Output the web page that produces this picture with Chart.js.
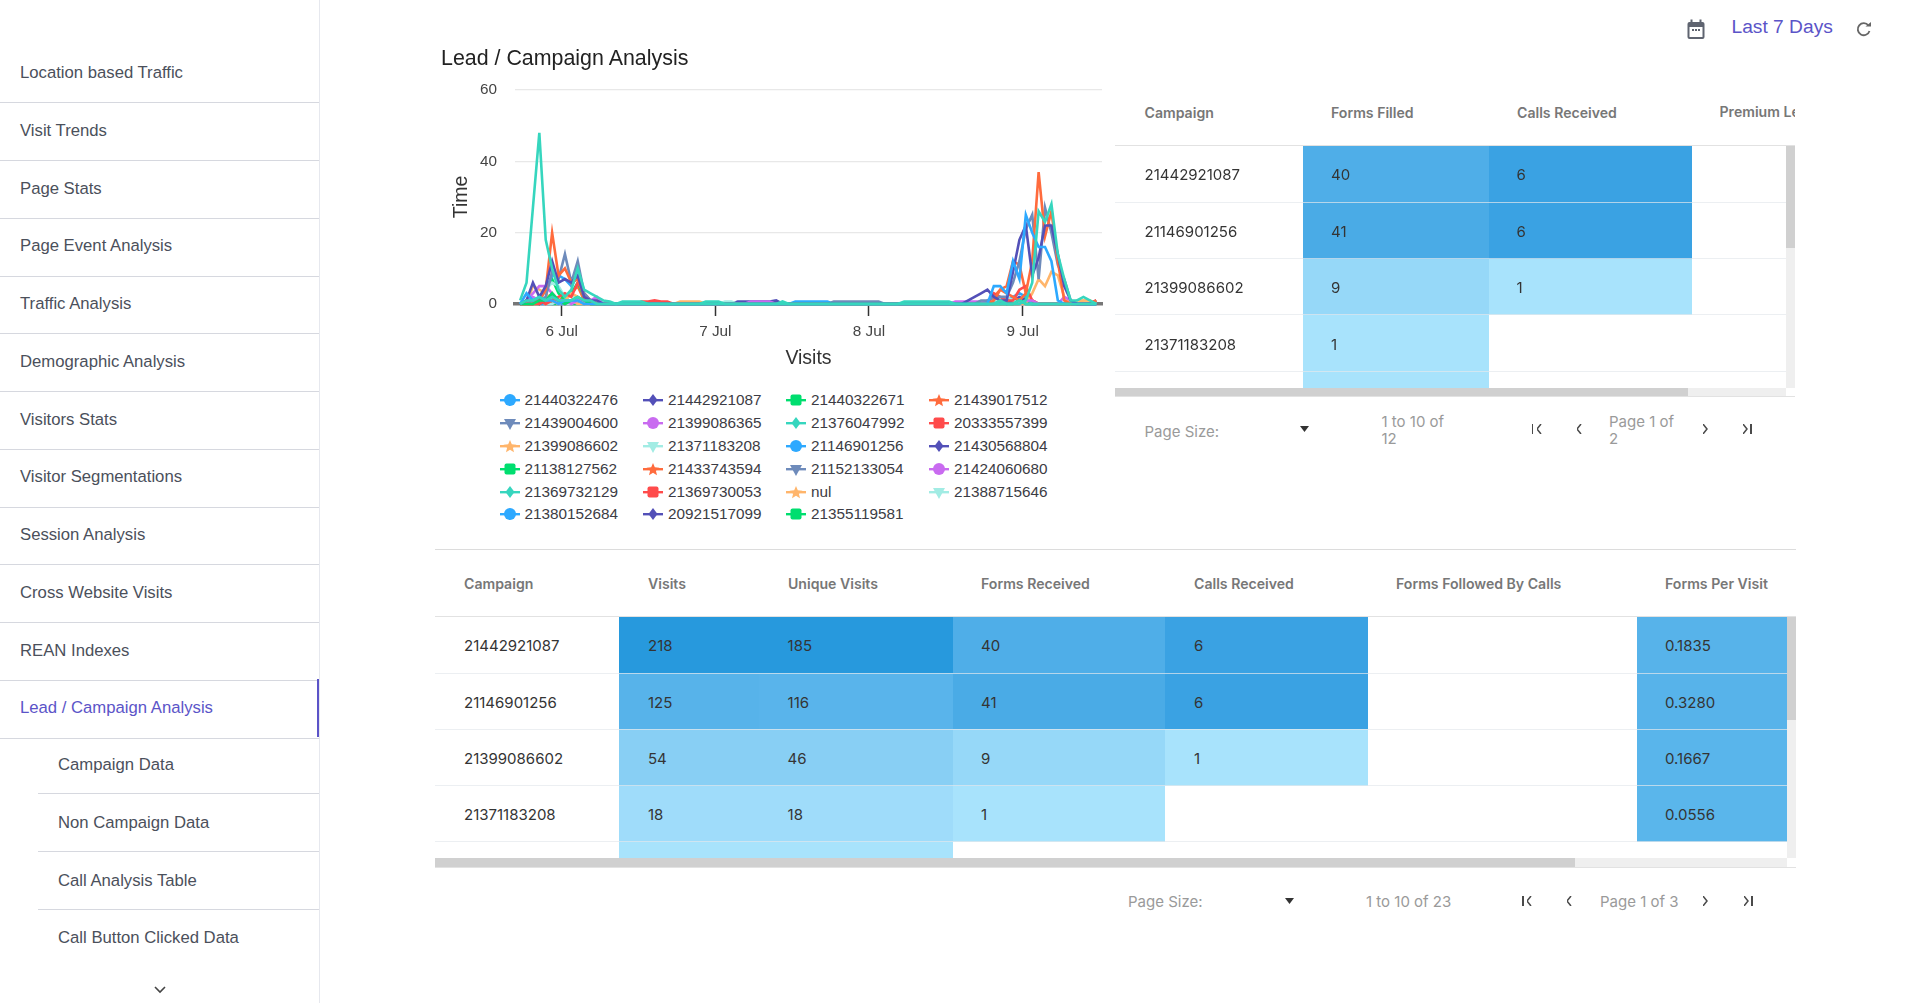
<!DOCTYPE html>
<html>
<head>
<meta charset="utf-8">
<title>Lead / Campaign Analysis</title>
<script src="https://cdn.jsdelivr.net/npm/chart.js@4"></script>
<style>
  html, body { margin: 0; background: #fff; overflow: hidden; width: 1905px; height: 1003px; }
  body { position: relative; font-family: "Liberation Sans", Arial, sans-serif; }
  .abs { position: absolute; white-space: nowrap; }
  .mid { transform: translateY(-50%); }
  .nav { left: 20px; font-size: 16.7px; color: #4b505b; }
  .nav.sub { left: 58px; }
  .nav.active { color: #5b54c8; }
  .legend-item { display: flex; align-items: center; font-size: 15.3px; color: #3c3c44; }
  .legend-item svg { margin-right: 4px; }
  .tbl { position: absolute; overflow: hidden; }
  table { border-collapse: collapse; table-layout: fixed; font-family: Inter, sans-serif; font-size: 15px; color: #343434; }
  td { padding: 2px 0 0 28px; border-bottom: 1px solid rgba(228,232,236,.7); box-sizing: border-box; }
  .head { font-family: Inter, sans-serif; font-size: 14.1px; font-weight: 600; color: #777; }
  .foot { font-family: Inter, sans-serif; font-size: 15px; color: #9a9a9a; line-height: 17px; white-space: pre; }
  .bar { position: absolute; background: #efefef; }
  .thumb { position: absolute; background: #d0d0d0; }
</style>
</head>
<body>
<canvas id="leadChart" class="abs" style="left:440px;top:70px"></canvas>
<script>
/* DATA */
const navItems = ["Location based Traffic", "Visit Trends", "Page Stats", "Page Event Analysis", "Traffic Analysis", "Demographic Analysis", "Visitors Stats", "Visitor Segmentations", "Session Analysis", "Cross Website Visits", "REAN Indexes", "Lead / Campaign Analysis"];
const navSubItems = ["Campaign Data", "Non Campaign Data", "Call Analysis Table", "Call Button Clicked Data"];

const tickHours = [0, 24, 48, 72];
const tickLabels = ["6 Jul", "7 Jul", "8 Jul", "9 Jul"];

const hours = [
  -6.5, -5.5, -4.5, -3.5, -2.5, -1.5, -0.5, 0.5, 1.5, 2.5, 3.5, 4.5, 5.5, 6.5,
  7.5, 8.5, 9.5, 10.5, 11.5, 12.5, 13.5, 14.5, 15.5, 16.5,
  17.5, 18.5, 19.5, 20.5, 21.5, 22.5, 23.5, 24.5, 25.5, 26.5,
  27.5, 28.5, 29.5, 30.5, 31.5, 32.5, 33.5, 34.5, 35.5, 36.5,
  37.5, 38.5, 39.5, 40.5, 41.5, 42.5, 43.5, 44.5, 45.5, 46.5,
  47.5, 48.5, 49.5, 50.5, 51.5, 52.5, 53.5, 54.5, 55.5, 56.5,
  57.5, 58.5, 59.5, 60.5, 61.5, 62.5, 63.5, 64.5, 65.5,
  66.5, 67.5, 68.5, 69.5, 70.5, 71.5, 72.5, 73.5, 74.5, 75.5, 76.5, 77.5, 78.5, 79.5, 80.5, 81.5, 82.5, 83.5
];

/* most campaigns stay at zero between the two bursts */
const quiet = [
  0,0,0,0,0,0,0,0,0,0, 0,0,0,0,0,0,0,0,0,0, 0,0,0,0,0,0,0,0,0,0,
  0,0,0,0,0,0,0,0,0,0, 0,0,0,0,0,0,0,0,0,0, 0,0,0,0,0,0,0,0,0
];

const c21440322476 = [0,3,1,2,1,1,0,1,1,1,0,0,0,0, ...quiet, 0,5,5,3,12,7,25,20,16,16,12,1,0,0,0,0,0,0];
const c21442921087 = [0,1,6,2,5,12,6,7,6,8,2,1,1,0,
  0,0,0,0,0,0,0,0,0,0, 0,0,0,0,0,0,0,0,0,0, 0,0,0,0,0,0,0,0,0,0,
  0,0,0,0,0,0,0,0,0,0, 0,0,0,0,0,0,0,0,0,0, 0,0,0,0,0,0,1,2,3,
  4,2,1,1,9,18,22,8,13,22,22,14,5,1,0,0,0,0];
const c21440322671 = [0,0,0,1,1,3,1,0,1,2,1,0,0,0, ...quiet, 0,0,0,0,0,1,0,0,0,0,0,0,0,0,0,0,0,0];
const c21439017512 = [0,0,0,1,4,20,8,10,6,7,2,0,0,0, ...quiet, 0,1,4,3,2,1,3,12,37,19,26,12,1,0,0,0,0,1];
const c21439004600 = [0,0,1,1,2,9,7,14,6,12,3,1,0,0,
  0,0,0,0,0,0,0,0,0,0, 0,0,0,0,0,0,0,0,0,0, 0,0,0,0,0,0,0,0,0,0,
  0,0,0,0,0,.7,.7,.7,.7,.7, .7,.7,.7,0,0,0,0,0,0,0, 0,0,0,0,0,0,0,0,1,
  1,2,2,2,6,12,21,25,7,27,20,11,7,1,0,0,0,0];
const c21399086365 = [0,1,3,5,5,3,1,1,1,1,1,1,2,0,
  0,0,0,0,0,0,0,0,0,0, 0,0,0,0,0,0,0,0,0,0, 0,0,.7,.7,.7,.7,0,0,0,0,
  0,0,0,0,0,0,0,0,0,0, 0,0,0,0,0,0,0,0,0,0, 0,0,0,0,.7,.7,.7,.7,.7,
  0,0,0,0,0,0,1,1,0,0,0,0,2,1,0,0,0,0];
const c21376047992 = [1,6,27,48,18,10,4,2,4,10,4,3,2,1,
  .7,0,.7,.7,.7,.7,0,0,0,0, 0,0,0,0,0,.7,.7,.7,0,0, 0,0,0,0,0,0,0,.7,0,0,
  0,0,0,0,0,0,0,0,0,0, 0,0,0,0,0,0,.7,.7,.7,.7, .7,.7,.7,.7,0,0,0,0,0,
  0,0,0,0,0,0,1,6,26,23,28,14,7,1,1,2,1,0];
const c20333557399 = [0,0,0,0,1,1,2,3,2,6,3,1,0,0,
  0,0,0,0,0,.7,.7,1,.7,.7, 0,0,0,0,0,0,0,0,0,0, 0,0,0,0,0,0,0,0,0,0,
  0,0,0,0,0,0,0,0,0,0, 0,0,0,0,0,0,0,0,0,0, 0,0,0,0,0,0,0,0,0,
  0,3,2,1,1,4,5,1,0,0,0,0,0,0,0,0,0,1];
const c21399086602 = [0,0,5,4,3,1,0,1,3,2,0,0,1,0,
  0,0,0,0,0,0,0,0,0,0, 0,.7,.7,.7,.7,0,0,0,0,0, 0,0,0,0,0,0,0,0,0,0,
  0,0,0,0,0,0,0,0,0,0, 0,0,0,0,0,0,0,0,0,0, 0,0,0,0,0,0,0,0,0,
  0,0,0,0,0,0,0,3,7,5,9,8,2,0,1,1,1,0];
const c21371183208 = [0,0,1,2,4,6,5,2,3,1,0,0,0,0,
  0,0,0,0,0,0,0,0,0,0, 0,0,0,0,0,0,0,0,.7,.7, 0,0,0,0,0,0,0,0,0,0,
  0,0,0,0,0,0,0,0,0,0, 0,0,0,0,0,0,0,0,0,0, 0,0,0,0,0,0,0,0,0,
  0,1,1,2,1,0,0,0,0,0,0,0,0,0,0,0,0,0];
const c21146901256 = [0,1,1,1,4,8,8,7,5,8,2,0,0,0,
  0,0,0,0,0,0,0,0,0,0, 0,0,0,0,0,0,0,0,0,0, 0,0,0,0,0,0,0,0,0,.7,
  .7,.7,.7,.7,.7,0,0,0,0,0, 0,0,0,0,0,0,0,0,0,0, 0,0,0,0,0,0,0,0,0,
  1,1,0,1,2,3,2,0,0,0,0,0,0,0,0,0,0,0];
const c21430568804 = [0,0,1,0,1,2,1,1,1,1,0,1,0,0,
  0,0,0,0,0,0,0,0,0,0, 0,0,0,0,0,0,0,0,0,0, .7,.7,.7,.7,.7,.7,1,0,0,0,
  0,0,0,0,0,0,0,0,0,0, 0,0,0,0,0,0,0,0,0,0, 0,0,0,0,0,0,0,0,0,
  0,1,1,0,1,2,1,0,0,0,0,0,0,0,0,0,0,1];
const c21138127562 = [0,0,0,1,5,7,3,1,3,6,2,0,0,0, ...quiet, 0,0,0,0,0,0,2,0,0,0,0,0,0,0,0,0,0,0];
const c21433743594 = [0,0,1,0,1,3,1,2,3,5,1,0,0,0, ...quiet, 0,2,4,5,12,11,3,1,0,0,0,0,0,0,0,0,0,0];
const c21152133054 = [0,0,1,2,1,2,1,1,1,1,1,0,1,0, ...quiet, 0,1,1,1,1,1,0,0,0,0,0,0,0,0,0,0,0,0];
const c21424060680 = [0,1,2,1,1,1,0,1,0,1,1,1,1,0, ...quiet, 0,0,0,0,1,0,0,1,0,0,0,0,0,0,0,0,0,0];
const c21369732129 = [0,1,1,2,1,2,1,1,1,2,1,1,0,0, ...quiet, 0,0,1,0,0,1,0,0,0,0,0,0,0,0,0,0,0,0];
const c21369730053 = [0,0,0,1,0,1,1,0,1,1,0,0,0,0, ...quiet, 0,0,1,1,0,0,1,0,0,0,0,0,0,0,0,0,0,0];
const cNul = [0,0,1,1,0,1,0,1,1,0,0,0,0,0, ...quiet, 0,0,0,0,0,0,0,0,0,0,0,0,0,0,0,1,1,0];
const c21388715646 = [0,0,0,1,0,0,1,0,0,1,0,0,0,0, ...quiet, 0,0,0,0,1,0,0,0,0,0,0,0,0,0,0,0,0,0];
const c21380152684 = [0,1,1,0,0,1,0,0,1,0,0,0,0,0, ...quiet, 0,0,1,0,0,0,0,0,0,0,0,0,0,0,0,0,0,0];
const c20921517099 = [0,0,0,1,0,0,1,0,0,1,0,0,0,0, ...quiet, 0,1,0,0,1,0,0,0,0,0,0,0,0,0,0,0,0,0];
const c21355119581 = [0,0,0,0,1,0,0,1,0,0,0,0,0,0, ...quiet, 0,0,0,0,0,1,0,0,0,0,0,0,0,0,0,0,0,0];

const seriesNames = ["21440322476", "21442921087", "21440322671", "21439017512", "21439004600", "21399086365", "21376047992", "20333557399", "21399086602", "21371183208", "21146901256", "21430568804", "21138127562", "21433743594", "21152133054", "21424060680", "21369732129", "21369730053", "nul", "21388715646", "21380152684", "20921517099", "21355119581"];
const seriesValues = [c21440322476, c21442921087, c21440322671, c21439017512, c21439004600, c21399086365, c21376047992, c20333557399, c21399086602, c21371183208, c21146901256, c21430568804, c21138127562, c21433743594, c21152133054, c21424060680, c21369732129, c21369730053, cNul, c21388715646, c21380152684, c20921517099, c21355119581];

const filledCampaigns = ["21442921087", "21146901256", "21399086602", "21371183208"];
const formsFilled = ["40", "41", "9", "1", ""];
const callsReceived = ["6", "6", "1", "", ""];

const visitCampaigns = ["21442921087", "21146901256", "21399086602", "21371183208"];
const visits = ["218", "125", "54", "18", ""];
const uniqueVisits = ["185", "116", "46", "18", ""];
const formsReceived = ["40", "41", "9", "1", ""];
const callsReceived2 = ["6", "6", "1", "", ""];
const formsPerVisit = ["0.1835", "0.3280", "0.1667", "0.0556", ""];

/* STYLE */
const palette = ["#2da9ff", "#5350b8", "#00de6f", "#ff6b3d", "#6e8bbb", "#c96bf0", "#36d6be", "#ff4b4b", "#ffb56b", "#a2ece4"];
const markers = ["circle", "diamond", "square", "star", "tri"];
const accent = "#5b54c8";
const filledColors = ["#4faee8", "#4aabe6", "#96d8f8", "#a8e3fc", "#a8e3fc"];
const callsColors = ["#3aa2e3", "#3aa2e3", "#a8e3fc", "", ""];
const visitsColors = ["#2799dd", "#57b3ea", "#88cff4", "#9fdcfa", "#a8e3fc"];
const uniqueColors = ["#2799dd", "#59b4eb", "#88cff4", "#9fdcfa", "#a8e3fc"];
const perVisitColors = ["#57b3ea", "#57b3ea", "#59b5eb", "#5ab6eb", ""];
/* the two teal campaigns sit on top of the others, as in the picture */
const drawOnTop = { "21376047992": -1, "21369732129": -2 };

/* HELPERS */
function add(html) {
  document.body.insertAdjacentHTML("beforeend", html);
}

function label(x, y, text, cls, style) {
  add(`<div class="abs mid ${cls || ""}" style="left:${x}px;top:${y}px;${style || ""}">${text}</div>`);
}

function line(x, y, w, color) {
  add(`<div class="abs" style="left:${x}px;top:${y}px;width:${w}px;height:1px;background:${color}"></div>`);
}

function markerSvg(shape, color) {
  let mark = `<circle cx="10" cy="8" r="6" fill="${color}"/>`;
  if (shape === "diamond") mark = `<path d="M10 2L14.5 8L10 14L5.5 8Z" fill="${color}"/>`;
  if (shape === "square") mark = `<rect x="4.5" y="2.5" width="11" height="11" rx="2" fill="${color}"/>`;
  if (shape === "star") mark = `<path d="M10 2L11.8 6.3L16.4 6.7L12.9 9.7L14 14.2L10 11.8L6 14.2L7.1 9.7L3.6 6.7L8.2 6.3Z" fill="${color}"/>`;
  if (shape === "tri") mark = `<path d="M4 4H16L10 15Z" fill="${color}"/>`;
  return `<svg width="20" height="16"><rect x="0" y="7" width="20" height="2.4" fill="${color}"/>${mark}</svg>`;
}

function chevron(x, y, dir) {
  const pts = dir > 0 ? "0,0 4,5 0,10" : "4,0 0,5 4,10";
  add(`<svg class="abs" style="left:${x - 2}px;top:${y - 5}px" width="5" height="10"><polyline points="${pts}" fill="none" stroke="#4a4a4a" stroke-width="1.5"/></svg>`);
}

function pager(y, xs) {
  add(`<div class="abs" style="left:${xs[0] - 6}px;top:${y - 5}px;width:1.5px;height:10px;background:#4a4a4a"></div>`);
  chevron(xs[0] + 1, y, -1);
  chevron(xs[1], y, -1);
  chevron(xs[2], y, 1);
  chevron(xs[3] - 1, y, 1);
  add(`<div class="abs" style="left:${xs[3] + 4}px;top:${y - 5}px;width:1.5px;height:10px;background:#4a4a4a"></div>`);
}

function buildTable(left, top, width, height, colWidths, rowHeight, columns) {
  let rows = "";
  for (let r = 0; r < 5; r++) {
    let cells = "";
    columns.forEach(col => {
      const bg = col.colors && col.colors[r] ? `background:${col.colors[r]};` : "";
      const pad = col.pad ? `padding-left:${col.pad}px;` : "";
      cells += `<td style="${bg}${pad}">${col.text[r] || ""}</td>`;
    });
    rows += `<tr style="height:${rowHeight}px">${cells}</tr>`;
  }
  const cols = colWidths.map(w => `<col style="width:${w}px">`).join("");
  const total = colWidths.reduce((a, b) => a + b, 0);
  add(`<div class="tbl" style="left:${left}px;top:${top}px;width:${width}px;height:${height}px"><table style="width:${total}px"><colgroup>${cols}</colgroup>${rows}</table></div>`);
}

/* SIDEBAR */
add(`<div class="abs" style="left:319px;top:0;width:1px;height:1003px;background:#e6e8ee"></div>`);
navItems.forEach((name, i) => {
  label(20, 73 + i * 57.75, name, "nav" + (name === "Lead / Campaign Analysis" ? " active" : ""));
  line(0, Math.round(102.3 + i * 57.75), 319, "#d6d8df");
});
navSubItems.forEach((name, i) => {
  label(58, 765 + i * 57.75, name, "nav sub");
  if (i < 3) line(38, Math.round(793 + i * 57.75), 281, "#d6d8df");
});
add(`<div class="abs" style="left:317px;top:679px;width:2px;height:58px;background:${accent}"></div>`);
add(`<svg class="abs" style="left:154px;top:986px" width="12" height="8"><polyline points="1,1 6,6 11,1" fill="none" stroke="#444" stroke-width="1.6"/></svg>`);

/* TOP BAR */
add(`<svg class="abs" style="left:1687px;top:19px" width="18" height="21"><rect x="0.5" y="3" width="17" height="17" rx="2" fill="#5f6470"/><rect x="2.5" y="8" width="13" height="10" fill="#fff"/><rect x="3.5" y="0.5" width="2" height="4" fill="#5f6470"/><rect x="12.5" y="0.5" width="2" height="4" fill="#5f6470"/><rect x="5" y="10" width="2" height="2" fill="#5f6470"/><rect x="8" y="10" width="2" height="2" fill="#5f6470"/><rect x="11" y="10" width="2" height="2" fill="#5f6470"/></svg>`);
label(1731.5, 27, "Last 7 Days", "", `font-size:19.2px;color:${accent}`);
add(`<svg class="abs" style="left:1856px;top:22px" width="16" height="15" viewBox="0 0 16 15"><path d="M12.5 3.5A6 6 0 1 0 13.5 9" fill="none" stroke="#666" stroke-width="1.8"/><path d="M9.5 4.5H15V0Z" fill="#666"/></svg>`);

/* TITLE */
label(441, 58, "Lead / Campaign Analysis", "", "font-size:21.4px;color:#222");

/* LEGEND */
const legendCols = [499.5, 643, 786, 929];
const legendRows = [400, 422.7, 446, 468.7, 491.7, 514];
seriesNames.forEach((name, i) => {
  const x = legendCols[i % 4];
  const y = legendRows[Math.floor(i / 4)];
  const color = palette[i % palette.length];
  const shape = markers[i % markers.length];
  add(`<div class="abs mid legend-item" style="left:${x}px;top:${y}px">${markerSvg(shape, color)}<span style="margin-left:1px">${name}</span></div>`);
});

line(435, 549, 1361, "#dcdcdc");

/* TOP TABLE */
label(1144.5, 112, "Campaign", "head");
label(1331, 112, "Forms Filled", "head");
label(1517, 112, "Calls Received", "head");
add(`<div class="abs" style="left:1719.5px;top:100px;width:75.5px;height:24px;overflow:hidden"><span class="head" style="line-height:24px">Premium Leads</span></div>`);
line(1115, 145, 680, "#e2e2e2");
buildTable(1115, 146, 671, 242, [188, 185.5, 203, 200], 56.3, [
  { text: filledCampaigns, pad: 29.5 },
  { text: formsFilled, colors: filledColors },
  { text: callsReceived, colors: callsColors },
  { text: [] }
]);
add(`<div class="bar" style="left:1786px;top:146px;width:9px;height:242px"></div><div class="thumb" style="left:1786px;top:146px;width:9px;height:102px"></div>`);
add(`<div class="bar" style="left:1115px;top:388px;width:671px;height:8px"></div><div class="thumb" style="left:1115px;top:388px;width:573px;height:8px"></div>`);
line(1115, 396, 680, "#e2e2e2");
label(1144.5, 431, "Page Size:", "foot");
add(`<svg class="abs" style="left:1300px;top:426px" width="9" height="6"><path d="M0 0H9L4.5 6Z" fill="#333"/></svg>`);
label(1381.5, 430, "1 to 10 of\n12", "foot");
label(1609, 430, "Page 1 of\n2", "foot");
pager(429, [1537.5, 1579, 1705, 1746]);

/* BOTTOM TABLE */
const bottomHeads = ["Campaign", "Visits", "Unique Visits", "Forms Received", "Calls Received", "Forms Followed By Calls", "Forms Per Visit"];
const bottomHeadX = [464, 648, 788, 981, 1194, 1396, 1665];
bottomHeads.forEach((h, i) => label(bottomHeadX[i], 583, h, "head"));
line(435, 616, 1361, "#e2e2e2");
buildTable(435, 617, 1352, 241, [184, 139.6, 194.4, 212, 203, 269, 150], 56.2, [
  { text: visitCampaigns, pad: 29 },
  { text: visits, colors: visitsColors, pad: 29 },
  { text: uniqueVisits, colors: uniqueColors, pad: 29 },
  { text: formsReceived, colors: ["#4faee8", "#4aabe6", "#96d8f8", "#a8e3fc", ""], pad: 28 },
  { text: callsReceived2, colors: callsColors, pad: 29 },
  { text: [] },
  { text: formsPerVisit, colors: perVisitColors, pad: 28 }
]);
add(`<div class="bar" style="left:1787px;top:617px;width:9px;height:241px"></div><div class="thumb" style="left:1787px;top:617px;width:9px;height:103px"></div>`);
add(`<div class="bar" style="left:435px;top:858px;width:1352px;height:9px"></div><div class="thumb" style="left:435px;top:858px;width:1140px;height:9px"></div>`);
line(435, 867, 1361, "#e2e2e2");
label(1128, 901, "Page Size:", "foot");
add(`<svg class="abs" style="left:1285px;top:898px" width="9" height="6"><path d="M0 0H9L4.5 6Z" fill="#333"/></svg>`);
label(1366, 901, "1 to 10 of 23", "foot");
label(1600, 901, "Page 1 of 3", "foot");
pager(901, [1528, 1569, 1705, 1747]);

/* LINE CHART */
const canvas = document.getElementById("leadChart");
canvas.width = 680;
canvas.height = 300;
canvas.style.width = "680px";
canvas.style.height = "300px";

new Chart(canvas, {
  type: "line",
  data: {
    datasets: seriesNames.map((name, i) => ({
      label: name,
      data: hours.map((h, k) => ({ x: h, y: seriesValues[i][k] })),
      borderColor: palette[i % palette.length],
      backgroundColor: palette[i % palette.length],
      borderWidth: 2.6,
      pointRadius: 0,
      tension: 0,
      clip: false,
      order: drawOnTop[name] || 0
    }))
  },
  options: {
    responsive: false,
    animation: false,
    devicePixelRatio: 1,
    layout: { padding: { top: 20, right: 18 } },
    plugins: { legend: { display: false }, tooltip: { enabled: false } },
    scales: {
      x: {
        type: "linear",
        min: -7.3,
        max: 84.4,
        afterBuildTicks: scale => { scale.ticks = tickHours.map(v => ({ value: v })); },
        afterFit: scale => { scale.height = 66; },
        grid: { display: true, drawOnChartArea: false, drawTicks: true, tickLength: 12, tickColor: "#333", tickWidth: 1.5 },
        border: { color: "#777", width: 3.5 },
        ticks: {
          autoSkip: false,
          maxRotation: 0,
          padding: 7,
          color: "#444",
          font: { family: "Liberation Sans", size: 15.3 },
          callback: v => tickLabels[tickHours.indexOf(v)]
        },
        title: {
          display: true,
          text: "Visits",
          color: "#333",
          padding: 0,
          font: { family: "Liberation Sans", size: 19.5 }
        }
      },
      y: {
        min: 0,
        max: 60,
        afterFit: scale => { scale.width = 75; },
        grid: { color: "#e8e8e8", tickColor: "rgba(0,0,0,0)", tickLength: 10, lineWidth: 1.2 },
        border: { display: false },
        ticks: {
          stepSize: 20,
          padding: 8,
          color: "#444",
          font: { family: "Liberation Sans", size: 15.3 }
        },
        title: {
          display: true,
          text: "Time",
          color: "#333",
          padding: { top: 10, bottom: 0 },
          font: { family: "Liberation Sans", size: 19.5 }
        }
      }
    }
  }
});
</script>
</body>
</html>
